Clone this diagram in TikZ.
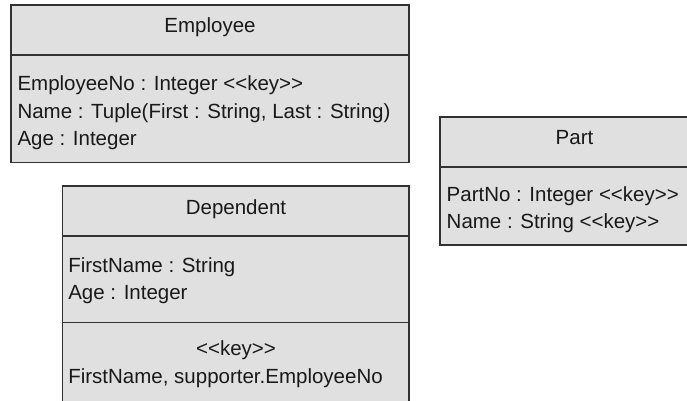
\documentclass[tikz,border=0pt]{standalone}
\usepackage{fontspec}
\setmainfont{Liberation Sans}
\definecolor{boxfill}{RGB}{224,224,224}
\definecolor{boxline}{RGB}{50,50,50}
\begin{document}
\begin{tikzpicture}[x=1pt,y=-1pt,
  classbox/.style={draw=boxline, fill=boxfill, line width=1.3pt, anchor=north west, inner sep=0pt, outer sep=0pt},
  sepline/.style={draw=boxline, line width=1.3pt},
  txt/.style={inner sep=0pt, outer sep=0pt, font=\fontsize{20.5}{24}\selectfont, text=black!90},
  attr/.style={txt, anchor=base west},
  title/.style={txt, anchor=base}]
\useasboundingbox (0,0) rectangle (687,400);
\clip (0,0) rectangle (687,400);
% Employee
\node[classbox, minimum width=398pt, minimum height=157.5pt] (employee) at (11,5) {};
\draw[sepline] (11,55) -- (409,55);
\node[title] (empT) at (210,32.7) {Employee};
\node[attr] (empA1) at (17.5,90.7) {EmployeeNo : Integer <{}<key>{}>};
\node[attr] (empA2) at (17.5,118) {Name : Tuple(First : String, Last : String)};
\node[attr] (empA3) at (17.5,145.5) {Age : Integer};
% Dependent
\node[classbox, minimum width=346.3pt, minimum height=240pt] (dependent) at (62.7,186) {};
\draw[sepline] (62.7,236) -- (409,236);
\draw[sepline] (62.7,322.7) -- (409,322.7);
\node[title] (depT) at (236,214) {Dependent};
\node[attr] (depA1) at (68.3,272.7) {FirstName : String};
\node[attr] (depA2) at (68.3,299.7) {Age : Integer};
\node[title] (depK) at (236,355) {<{}<key>{}>};
\node[attr] (depK2) at (68.3,383.3) {FirstName, supporter.EmployeeNo};
% Part
\node[classbox, minimum width=269pt, minimum height=128pt] (part) at (440,117) {};
\draw[sepline] (440,167) -- (709,167);
\node[title] (partT) at (574.5,144) {Part};
\node[attr] (partA1) at (446.7,201.7) {PartNo : Integer <{}<key>{}>};
\node[attr] (partA2) at (446.7,228.5) {Name : String <{}<key>{}>};
\end{tikzpicture}
\end{document}
